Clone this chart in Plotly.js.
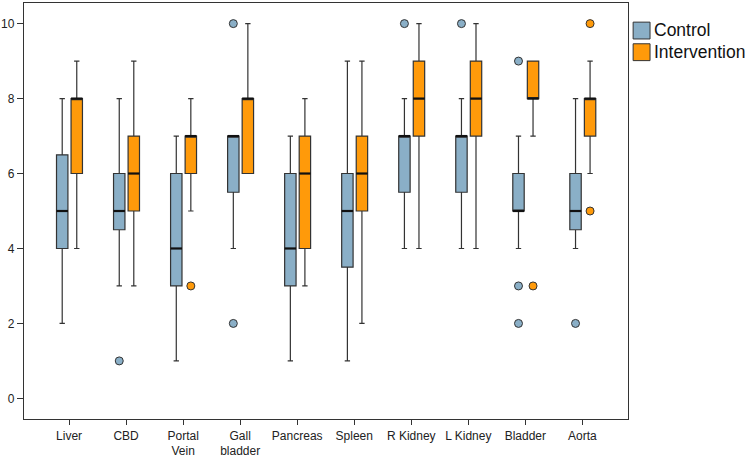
<!DOCTYPE html>
<html>
<head>
<meta charset="utf-8">
<script src="https://cdn.plot.ly/plotly-3.0.1.min.js"></script>
<style>html,body{margin:0;padding:0;background:#fff;}#chart{width:749px;height:458px;}</style>
</head>
<body>
<div id="chart"></div>
<script>
// ---- data ----
var categories = ['Liver','CBD','Portal Vein','Gall bladder','Pancreas','Spleen','R Kidney','L Kidney','Bladder','Aorta'];
var tickLabels = ['Liver','CBD','Portal<br>Vein','Gall<br>bladder','Pancreas','Spleen','R Kidney','L Kidney','Bladder','Aorta'];

var ctrlLower  = [2,   3,   1, 4,   1, 1,   4,   4,   4, 4];
var ctrlQ1     = [4,   4.5, 3, 5.5, 3, 3.5, 5.5, 5.5, 5, 4.5];
var ctrlMedian = [5,   5,   4, 7,   4, 5,   7,   7,   5, 5];
var ctrlQ3     = [6.5, 6,   6, 7,   6, 6,   7,   7,   6, 6];
var ctrlUpper  = [8,   8,   7, 7,   7, 9,   8,   8,   7, 8];

var intLower  = [4, 3, 5, 6,  3, 2, 4,  4,  7, 6];
var intQ1     = [6, 5, 6, 6,  4, 5, 7,  7,  8, 7];
var intMedian = [8, 6, 7, 8,  6, 6, 8,  8,  8, 8];
var intQ3     = [8, 7, 7, 8,  7, 7, 9,  9,  9, 8];
var intUpper  = [9, 9, 8, 10, 8, 9, 10, 10, 9, 9];

var ctrlOutCat = ['CBD','Gall bladder','Gall bladder','R Kidney','L Kidney','Bladder','Bladder','Bladder','Aorta'];
var ctrlOutVal = [1, 10, 2, 10, 10, 9, 3, 2, 2];
var intOutCat  = ['Portal Vein','Bladder','Aorta','Aorta'];
var intOutVal  = [3, 3, 10, 5];

// ---- styling ----
var ctrlColor = '#8AAFC7';
var intColor  = '#FF9A0A';
var edge = '#333333';
var ctrlOff = -0.12, intOff = 0.135, boxW = 0.2;

function pos(arr, off){ return arr.map(function(c){ return categories.indexOf(c) + off; }); }
var idx = categories.map(function(c,i){ return i; });

function boxTrace(name, off, color, lo, q1, med, q3, hi){
  return {
    type:'box', name:name, x: idx.map(function(i){return i+off;}),
    lowerfence: lo, q1: q1, median: med, q3: q3, upperfence: hi,
    width: boxW, whiskerwidth: 0.47, fillcolor: color,
    line:{color: edge, width:1.2}, boxpoints:false, showlegend:false, hoverinfo:'y'
  };
}
function medianTrace(off, med){
  var xs=[], ys=[];
  med.forEach(function(m,i){ xs.push(i+off-boxW/2, i+off+boxW/2, null); ys.push(m,m,null); });
  return {type:'scatter', mode:'lines', x:xs, y:ys, line:{color:'#111', width:2.2}, showlegend:false, hoverinfo:'skip'};
}
function outTrace(cats, vals, off, color){
  return {type:'scatter', mode:'markers', x:pos(cats, off), y:vals,
    marker:{color:color, size:8, line:{color:edge, width:1}}, showlegend:false, hoverinfo:'y'};
}

var data = [
  boxTrace('Control', ctrlOff, ctrlColor, ctrlLower, ctrlQ1, ctrlMedian, ctrlQ3, ctrlUpper),
  boxTrace('Intervention', intOff, intColor, intLower, intQ1, intMedian, intQ3, intUpper),
  medianTrace(ctrlOff, ctrlMedian),
  medianTrace(intOff, intMedian),
  outTrace(ctrlOutCat, ctrlOutVal, ctrlOff, ctrlColor),
  outTrace(intOutCat, intOutVal, intOff, intColor)
];

var layout = {
  width:749, height:458,
  margin:{l:24, r:121, t:3, b:39},
  paper_bgcolor:'#ffffff', plot_bgcolor:'#ffffff',
  font:{family:'Liberation Sans, Arial, sans-serif', color:'#222', size:12},
  showlegend:false,
  xaxis:{range:[-0.79, 9.8], tickmode:'array', tickvals:idx, ticktext:tickLabels,
    showline:true, mirror:true, linecolor:'#333', linewidth:1.2,
    ticks:'outside', ticklen:5, tickcolor:'#333', showgrid:false, zeroline:false,
    tickfont:{size:12, color:'#222'}},
  yaxis:{range:[-0.55, 10.55], tickvals:[0,2,4,6,8,10],
    showline:true, mirror:true, linecolor:'#333', linewidth:1.2,
    ticks:'outside', ticklen:6, tickcolor:'#333', showgrid:false, zeroline:false,
    tickfont:{size:12, color:'#222'}},
  shapes:[
    {type:'rect', xref:'paper', yref:'paper', x0:1.0085, x1:1.0365, y0:0.9135, y1:0.954,
     fillcolor:ctrlColor, line:{color:edge, width:1}},
    {type:'rect', xref:'paper', yref:'paper', x0:1.0085, x1:1.0365, y0:0.8615, y1:0.902,
     fillcolor:intColor, line:{color:edge, width:1}}
  ],
  annotations:[
    {xref:'paper', yref:'paper', x:1.039, y:0.934, xanchor:'left', yanchor:'middle',
     text:'Control', showarrow:false, font:{size:17.5, color:'#111'}},
    {xref:'paper', yref:'paper', x:1.039, y:0.882, xanchor:'left', yanchor:'middle',
     text:'Intervention', showarrow:false, font:{size:17.5, color:'#111'}}
  ]
};

Plotly.newPlot('chart', data, layout, {displayModeBar:false, staticPlot:true});
</script>
</body>
</html>
